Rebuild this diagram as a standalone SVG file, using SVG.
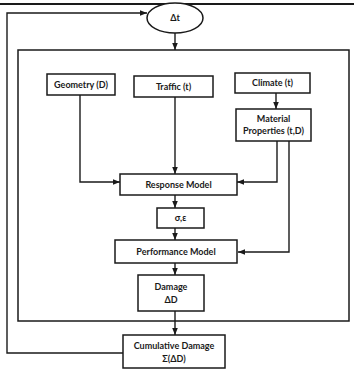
<svg xmlns="http://www.w3.org/2000/svg" width="354" height="371" viewBox="0 0 354 371">
<style>
.b{fill:#fff;stroke:#1a1a1a;stroke-width:1.5}
.c{fill:none;stroke:#1a1a1a;stroke-width:1.4}
text{font-family:"Lato","Liberation Sans",sans-serif;font-size:9px;font-weight:bold;fill:#1a1a1a;text-anchor:middle}
</style>
<defs>
<marker id="a" viewBox="0 0 10 10" refX="10" refY="5" markerWidth="5" markerHeight="5" orient="auto-start-reverse">
<path d="M0,1 L10,5 L0,9 z" fill="#1a1a1a"/>
</marker>
</defs>
<rect width="354" height="371" fill="#fff"/>
<line x1="0" y1="4" x2="354" y2="4" stroke="#1a1a1a" stroke-width="2"/>
<g id="frame">
<rect x="18" y="50" width="331" height="271" fill="none" stroke="#1a1a1a" stroke-width="1.5"/>
</g>
<g id="connectors">
<path class="c" d="M175,33 V50" marker-end="url(#a)"/>
<path class="c" d="M80,95 V182 H120" marker-end="url(#a)"/>
<path class="c" d="M175,97 V174" marker-end="url(#a)"/>
<path class="c" d="M276,93 V109" marker-end="url(#a)"/>
<path class="c" d="M277,141 V182 H237" marker-end="url(#a)"/>
<path class="c" d="M289,141 V252 H238" marker-end="url(#a)"/>
<path class="c" d="M175,195 V208" marker-end="url(#a)"/>
<path class="c" d="M175,228 V240" marker-end="url(#a)"/>
<path class="c" d="M175,263 V275" marker-end="url(#a)"/>
<path class="c" d="M175,311 V335" marker-end="url(#a)"/>
<path class="c" d="M123,353 H7 V13 H147" marker-end="url(#a)"/>
</g>
<g id="dt">
<ellipse class="b" cx="175" cy="18" rx="28" ry="15"/>
<text x="175" y="21">Δt</text>
</g>
<g id="geometry">
<rect class="b" x="47" y="74" width="68" height="21"/>
<text x="81" y="88">Geometry (D)</text>
</g>
<g id="traffic">
<rect class="b" x="134" y="76" width="79" height="21"/>
<text x="173.5" y="90">Traffic (t)</text>
</g>
<g id="climate">
<rect class="b" x="235" y="73" width="75" height="20"/>
<text x="272.5" y="86">Climate (t)</text>
</g>
<g id="material">
<rect class="b" x="236" y="109" width="75" height="32"/>
<text x="273.5" y="122">Material</text>
<text x="273.5" y="134">Properties (t,D)</text>
</g>
<g id="response">
<rect class="b" x="120" y="174" width="117" height="21"/>
<text x="178.5" y="188">Response Model</text>
</g>
<g id="stress">
<rect class="b" x="157" y="208" width="47" height="20"/>
<text x="180.5" y="221">σ,ε</text>
</g>
<g id="performance">
<rect class="b" x="115" y="240" width="122" height="23"/>
<text x="176" y="255">Performance Model</text>
</g>
<g id="damage">
<rect class="b" x="138" y="275" width="66" height="36"/>
<text x="171" y="290">Damage</text>
<text x="171" y="303">ΔD</text>
</g>
<g id="cumulative">
<rect class="b" x="123" y="335" width="102" height="33"/>
<text x="174" y="349">Cumulative Damage</text>
<text x="174" y="362">Σ(ΔD)</text>
</g>
</svg>
